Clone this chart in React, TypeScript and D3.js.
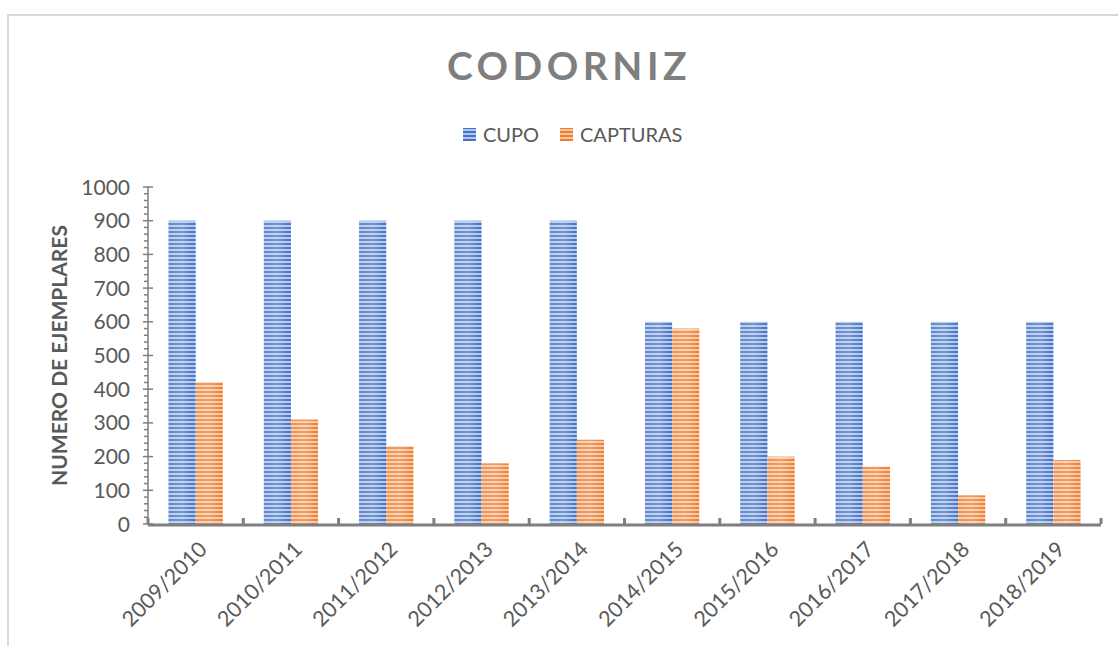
import React, { useRef, useEffect } from 'react';
import * as d3 from 'd3';

const seasons = ['2009/2010', '2010/2011', '2011/2012', '2012/2013', '2013/2014', '2014/2015', '2015/2016', '2016/2017', '2017/2018', '2018/2019'];
const cupo = [900, 900, 900, 900, 900, 600, 600, 600, 600, 600];
const capturas = [420, 310, 230, 180, 250, 580, 200, 170, 85, 190];
const seriesNames = ['CUPO', 'CAPTURAS'];
const yTicks = [0, 100, 200, 300, 400, 500, 600, 700, 800, 900, 1000];

const W = 1118;
const H = 646;
const FONT = 'Lato, "Open Sans", sans-serif';

export default function App() {
	const ref = useRef<SVGSVGElement>(null);

	useEffect(() => {
		if (!ref.current) return;
		const svg = d3.select(ref.current);
		svg.selectAll('*').remove();

		const margin = { top: 187, right: 17, bottom: 122, left: 148 };
		const width = W - margin.left - margin.right;
		const height = H - margin.top - margin.bottom;

		// stripe patterns like the office "horizontal lines" fill
		const defs = svg.append('defs');
		const colours = [
			{ id: 'p-cupo', dark: '#4472c4', light: '#b0c6ec' },
			{ id: 'p-capt', dark: '#ed7d31', light: '#f8c6a2' },
		];
		colours.forEach((c) => {
			const p = defs
				.append('pattern')
				.attr('id', c.id)
				.attr('patternUnits', 'userSpaceOnUse')
				.attr('width', 8)
				.attr('height', 4);
			p.append('rect').attr('width', 8).attr('height', 4).attr('fill', c.light);
			p.append('rect').attr('width', 8).attr('height', 2).attr('fill', c.dark);
		});
		const grad = defs.append('linearGradient').attr('id', 'shine').attr('x1', 0).attr('x2', 1).attr('y1', 0).attr('y2', 0);
		grad.append('stop').attr('offset', '0%').attr('stop-color', '#fff').attr('stop-opacity', 0.15);
		grad.append('stop').attr('offset', '50%').attr('stop-color', '#fff').attr('stop-opacity', 0.25);
		grad.append('stop').attr('offset', '100%').attr('stop-color', '#fff').attr('stop-opacity', 0);

		// chart frame
		svg.append('path').attr('d', `M8,${H} V15 H${W}`).attr('fill', 'none').attr('stroke', '#d9d9d9').attr('stroke-width', 2);

		svg.append('text')
			.attr('x', 569)
			.attr('y', 80)
			.attr('text-anchor', 'middle')
			.style('font-family', FONT)
			.style('font-size', '39px')
			.style('font-weight', 'bold')
			.style('letter-spacing', '4.5px')
			.style('fill', '#7f7f7f')
			.text('CODORNIZ');

		// legend
		const legend = svg.append('g').attr('transform', 'translate(463,135)');
		const legendX = [0, 97];
		seriesNames.forEach((name, i) => {
			const g = legend.append('g').attr('transform', `translate(${legendX[i]},0)`);
			g.append('rect').attr('x', 0).attr('y', -7).attr('width', 13).attr('height', 13).attr('fill', `url(#${colours[i].id})`);
			g.append('text')
				.attr('x', 20)
				.attr('y', 7)
				.style('font-family', FONT)
				.style('font-size', '20px')
				.style('fill', '#595959')
				.text(name);
		});

		const chart = svg.append('g').attr('transform', `translate(${margin.left},${margin.top})`);

		const x0 = d3.scaleBand().domain(seasons).range([0, width]).paddingInner(0.43).paddingOuter(0.215);
		const x1 = d3.scaleBand().domain(seriesNames).range([0, x0.bandwidth()]);
		const y = d3.scaleLinear().domain([0, 1000]).range([height, 0]);

		const data = seasons.map((s, i) => ({ season: s, values: [cupo[i], capturas[i]] }));

		const groups = chart
			.selectAll('g.season')
			.data(data)
			.enter()
			.append('g')
			.attr('class', 'season')
			.attr('transform', (d) => `translate(${x0(d.season)},0)`);

		seriesNames.forEach((name, k) => {
			groups
				.append('rect')
				.attr('x', x1(name)!)
				.attr('y', (d) => y(d.values[k]))
				.attr('width', x1.bandwidth())
				.attr('height', (d) => height - y(d.values[k]))
				.attr('fill', `url(#${colours[k].id})`);
			groups
				.append('rect')
				.attr('x', x1(name)!)
				.attr('y', (d) => y(d.values[k]))
				.attr('width', x1.bandwidth())
				.attr('height', (d) => height - y(d.values[k]))
				.attr('fill', 'url(#shine)');
		});

		// y axis with minor ticks
		const axisColour = '#7f7f7f';
		chart.append('line').attr('x1', 0).attr('x2', 0).attr('y1', y(1000)).attr('y2', height).attr('stroke', axisColour).attr('stroke-width', 1.5);
		d3.range(0, 1001, 20).forEach((v) => {
			const major = v % 100 === 0;
			chart.append('line')
				.attr('x1', major ? -5 : -4)
				.attr('x2', major ? 5 : 0)
				.attr('y1', y(v))
				.attr('y2', y(v))
				.attr('stroke', axisColour)
				.attr('stroke-width', 1.5);
		});
		chart.selectAll('text.ytick')
			.data(yTicks)
			.enter()
			.append('text')
			.attr('class', 'ytick')
			.attr('x', -18)
			.attr('y', (d) => y(d) + 7.5)
			.attr('text-anchor', 'end')
			.style('font-family', FONT)
			.style('font-size', '21px')
			.style('fill', '#595959')
			.text((d) => d);

		// x axis
		chart.append('line').attr('x1', 0).attr('x2', width).attr('y1', height + 1).attr('y2', height + 1).attr('stroke', axisColour).attr('stroke-width', 3);
		const step = x0.step();
		d3.range(0, seasons.length + 1).forEach((i) => {
			chart.append('line')
				.attr('x1', i * step)
				.attr('x2', i * step)
				.attr('y1', height - 6)
				.attr('y2', height)
				.attr('stroke', axisColour)
				.attr('stroke-width', 3);
		});
		chart.selectAll('text.xtick')
			.data(seasons)
			.enter()
			.append('text')
			.attr('class', 'xtick')
			.attr('transform', (d) => `translate(${x0(d)! + x0.bandwidth() / 2 + 2},${height + 16}) rotate(-45)`)
			.attr('text-anchor', 'end')
			.attr('dy', '0.7em')
			.style('font-family', FONT)
			.style('font-size', '21.5px')
			.style('fill', '#595959')
			.text((d) => d);

		svg.append('text')
			.attr('transform', `translate(67,${margin.top + height / 2}) rotate(-90)`)
			.attr('text-anchor', 'middle')
			.style('font-family', FONT)
			.style('font-size', '21px')
			.style('font-weight', 'bold')
			.style('fill', '#595959')
			.text('NUMERO DE EJEMPLARES');
	}, []);

	return <svg ref={ref} width={W} height={H} style={{ position: 'absolute', left: 0, top: 0, background: '#fff' }} />;
}
